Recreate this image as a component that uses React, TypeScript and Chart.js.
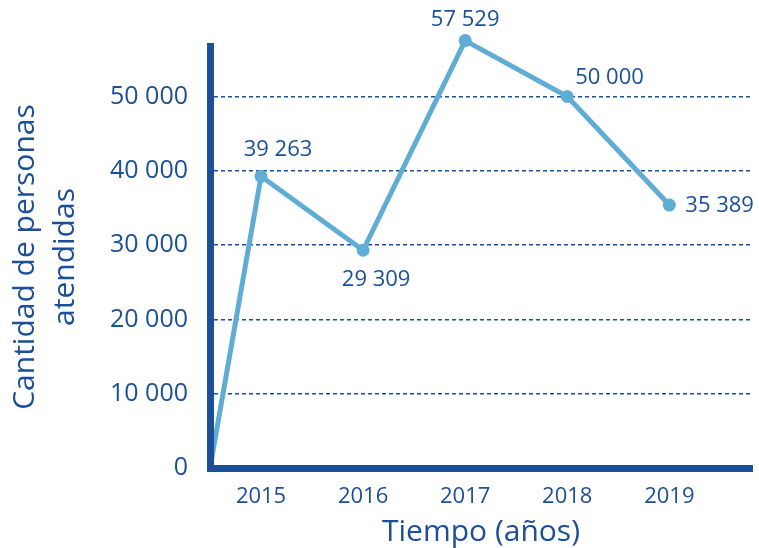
import React, { useEffect, useRef } from "react";
import { Chart, registerables } from "chart.js";

Chart.register(...registerables);

const years = [2015, 2016, 2017, 2018, 2019];
const values = [39263, 29309, 57529, 50000, 35389];
const valueLabels = ["39 263", "29 309", "57 529", "50 000", "35 389"];
const startYear = 2014.5;
const startValue = 0;
const yTicks = [0, 10000, 20000, 30000, 40000, 50000];
const yTickLabels = ["0", "10 000", "20 000", "30 000", "40 000", "50 000"];
const yTitle = ["Cantidad de personas", "atendidas"];
const xTitle = "Tiempo (años)";

const DARK = "#1b4f98";
const LIGHT = "#5fadd4";
const FONT = "'Open Sans', 'Noto Sans', sans-serif";

// label offsets relative to points (style)
const labelOffsets: { dx: number; dy: number; align: CanvasTextAlign }[] = [
  { dx: 17, dy: -27, align: "center" },
  { dx: 13, dy: 29, align: "center" },
  { dx: 0, dy: -21, align: "center" },
  { dx: 8, dy: -19, align: "left" },
  { dx: 16, dy: 1, align: "left" },
];

const labelPlugin = {
  id: "valueLabels",
  afterDatasetsDraw(chart: any) {
    const meta = chart.getDatasetMeta(0);
    const ctx = chart.ctx;
    ctx.save();
    ctx.font = `22px ${FONT}`;
    ctx.fillStyle = DARK;
    ctx.textBaseline = "middle";
    valueLabels.forEach((lbl, i) => {
      const el = meta.data[i + 1];
      if (!el) return;
      const o = labelOffsets[i];
      ctx.textAlign = o.align;
      ctx.fillText(lbl, el.x + o.dx, el.y + o.dy);
    });
    ctx.restore();
  },
};

export default function App() {
  const ref = useRef<HTMLCanvasElement>(null);
  useEffect(() => {
    if (!ref.current) return;
    const data = [
      { x: startYear, y: startValue },
      ...years.map((yr, i) => ({ x: yr, y: values[i] })),
    ];
    const chart = new Chart(ref.current, {
      type: "line",
      data: {
        datasets: [
          {
            data,
            borderColor: LIGHT,
            backgroundColor: LIGHT,
            borderWidth: 5,
            pointRadius: (c: any) => (c.dataIndex === 0 ? 0 : 6.5),
            pointBackgroundColor: LIGHT,
            pointBorderWidth: 0,
            tension: 0,
            clip: false as any,
          },
        ],
      },
      plugins: [labelPlugin],
      options: {
        animation: false,
        responsive: false,
        maintainAspectRatio: false,
        layout: { padding: { top: 46, right: 7, left: 0, bottom: 0 } },
        plugins: { legend: { display: false }, tooltip: { enabled: false } },
        scales: {
          x: {
            type: "linear",
            min: startYear,
            max: 2019.81,
            afterBuildTicks: (s: any) => {
              s.ticks = years.map((v) => ({ value: v }));
            },
            afterFit: (s: any) => {
              s.height = 80;
            },
            ticks: {
              color: DARK,
              font: { family: FONT, size: 22 },
              padding: 16,
              callback: (v: any) => String(v),
            },
            grid: { display: false, drawTicks: false },
            border: { display: true, color: DARK, width: 7, z: 1 },
            title: {
              display: true,
              text: xTitle,
              color: DARK,
              font: { family: FONT, size: 30 },
              padding: { top: 0, bottom: -2 },
            },
          },
          y: {
            type: "linear",
            min: 0,
            max: 56800,
            afterBuildTicks: (s: any) => {
              s.ticks = yTicks.map((v) => ({ value: v }));
            },
            afterFit: (s: any) => {
              s.width = 210;
            },
            ticks: {
              color: DARK,
              font: { family: FONT, size: 25 },
              padding: 22,
              callback: (_v: any, i: number) => yTickLabels[i],
            },
            grid: {
              drawTicks: false,
              color: (c: any) => (c.tick && c.tick.value === 0 ? "rgba(0,0,0,0)" : DARK),
              lineWidth: 1.5,
            },
            border: { display: true, color: DARK, width: 7, dash: [4, 3] as any, z: 1 },
            title: {
              display: true,
              text: yTitle,
              color: DARK,
              font: { family: FONT, size: 30, lineHeight: 1.33 },
              padding: { top: 6, bottom: 0 },
            },
          },
        },
      },
    } as any);
    return () => chart.destroy();
  }, []);
  return (
    <div style={{ position: "fixed", left: 0, top: 0, width: 759, height: 548, background: "#fff" }}>
      <canvas ref={ref} width={759} height={548} style={{ width: 759, height: 548 }} />
    </div>
  );
}
